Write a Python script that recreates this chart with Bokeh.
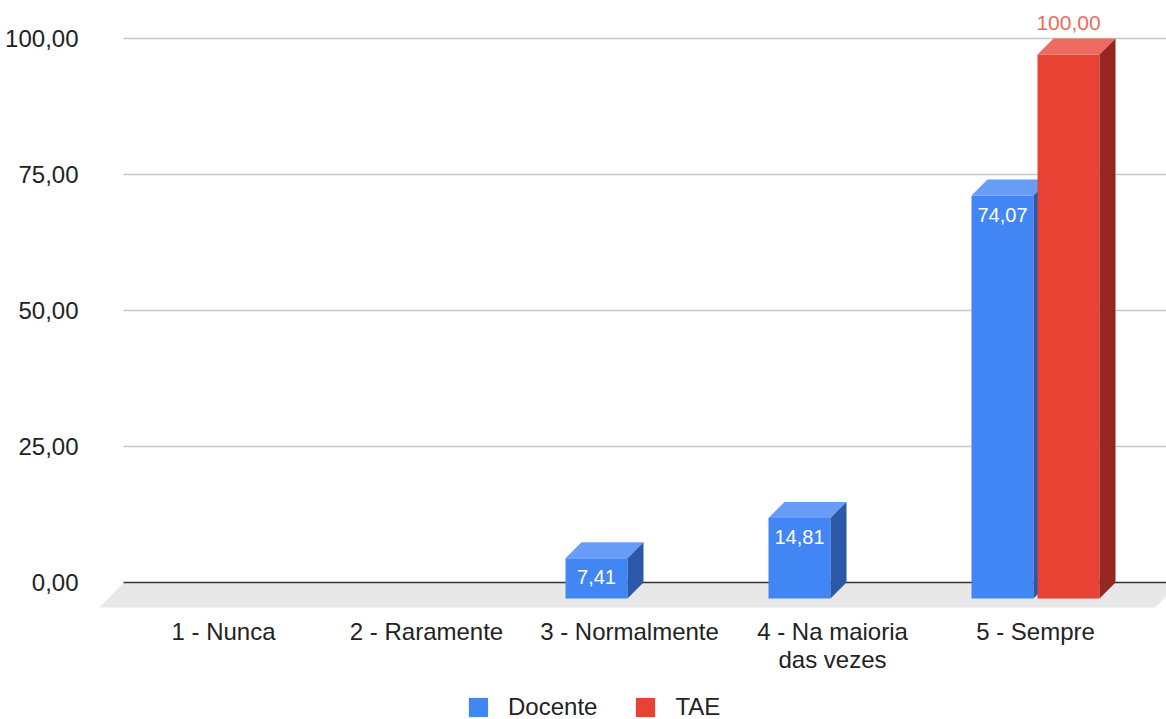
import numpy as np
from bokeh.plotting import figure
from bokeh.models import Range1d, FixedTicker, Legend, LegendItem
from bokeh.embed import file_html
from bokeh.resources import INLINE
from bokeh.core.properties import value

# ---------------- data ----------------
categories = ["1 - Nunca", "2 - Raramente", "3 - Normalmente",
              "4 - Na maioria\ndas vezes", "5 - Sempre"]
series_names = ["Docente", "TAE"]
docente = [0.0, 0.0, 7.41, 14.81, 74.07]
tae = [0.0, 0.0, 0.0, 0.0, 100.0]
y_ticks = [0, 25, 50, 75, 100]
y_tick_labels = ["0,00", "25,00", "50,00", "75,00", "100,00"]

# ---------------- layout constants ----------------
W, H = 1166, 719
FRAME_L, FRAME_R, FRAME_T, FRAME_B = 96, 1166, 0, 719
PX_CAT = 203.0      # px per category
PX_VAL = 5.44       # px per value unit
CAT0_PX = 223.0     # canvas x of category 0
ZERO_PX = 582.0     # canvas y of value 0 (back wall)

x_start = (FRAME_L - CAT0_PX) / PX_CAT
x_end = (FRAME_R - CAT0_PX) / PX_CAT
y_end = (ZERO_PX - FRAME_T) / PX_VAL
y_start = (ZERO_PX - FRAME_B) / PX_VAL

DX = 16 / PX_CAT
DY = 16 / PX_VAL
BW = 62 / PX_CAT
GAP = 2 / PX_CAT
WALL_X0 = (123 - CAT0_PX) / PX_CAT
FLOOR_DX = 24 / PX_CAT
FLOOR_DY = 25 / PX_VAL
FLOOR_X1 = (1155 - CAT0_PX) / PX_CAT
CAT_LABEL_Y = (ZERO_PX - 617) / PX_VAL

FONT = "Liberation Sans"
TXT = "#222222"

p = figure(width=W, height=H, output_backend="svg", toolbar_location=None,
           x_range=Range1d(x_start, x_end), y_range=Range1d(y_start, y_end),
           min_border_left=FRAME_L, min_border_right=W - FRAME_R,
           min_border_top=FRAME_T, min_border_bottom=H - FRAME_B,
           outline_line_color=None, background_fill_color="white",
           border_fill_color="white")
p.xgrid.visible = False
p.ygrid.visible = False
p.xaxis.visible = False

# floor
p.patch([WALL_X0, FLOOR_X1 + FLOOR_DX, FLOOR_X1, WALL_X0 - FLOOR_DX],
        [0, 0, -FLOOR_DY, -FLOOR_DY], fill_color="#e8e8e8", line_color=None)

# grid lines on back wall
grid_vals = [t for t in y_ticks if t != 0]
p.segment(x0=[WALL_X0] * len(grid_vals), x1=[x_end + 1] * len(grid_vals),
          y0=grid_vals, y1=grid_vals, line_color="#c8c8c8", line_width=1.3)
p.segment(x0=[WALL_X0], x1=[x_end + 1], y0=[0], y1=[0],
          line_color="#333333", line_width=1.6)

xs = np.arange(len(categories))


def fmt(v):
    return f"{v:.2f}".replace(".", ",")


def draw_series(vals, left_off, front, top, side):
    vals = np.asarray(vals)
    m = vals > 0
    c = xs[m].astype(float)
    v = vals[m]
    xl = c + left_off
    xr = xl + BW
    front_r = p.quad(left=xl, right=xr, bottom=-DY, top=v - DY,
                     fill_color=front, line_color=None)
    p.patches(xs=[[a, b, b + DX, a + DX] for a, b in zip(xl, xr)],
              ys=[[t - DY, t - DY, t, t] for t in v],
              fill_color=top, line_color=None)
    p.patches(xs=[[b, b + DX, b + DX, b] for b in xr],
              ys=[[-DY, 0, t, t - DY] for t in v],
              fill_color=side, line_color=None)
    return front_r, xl, xr, v


r_doc, dl, dr, dv = draw_series(docente, -GAP - BW, "#4285f4", "#679df6", "#2b58a8")
r_tae, tl, tr, tv = draw_series(tae, GAP, "#e84234", "#ec6a5f", "#962720")

# value labels
p.text(x=(dl + dr) / 2, y=dv - DY - 19 / PX_VAL, text=[fmt(v) for v in dv],
       text_color="white", text_font=value(FONT), text_font_size="20px",
       text_align="center", text_baseline="middle")
p.text(x=(tl + tr) / 2, y=tv + 16 / PX_VAL, text=[fmt(v) for v in tv],
       text_color="#ee6a5e", text_font=value(FONT), text_font_size="21px",
       text_align="center", text_baseline="middle")

# category labels (x axis)
p.text(x=xs, y=[CAT_LABEL_Y] * len(xs), text=categories,
       text_color=TXT, text_font=value(FONT), text_font_size="24px",
       text_align="center", text_baseline="top", text_line_height=1.05)

# y axis
yax = p.yaxis[0]
yax.ticker = FixedTicker(ticks=y_ticks)
yax.major_label_overrides = {t: l for t, l in zip(y_ticks, y_tick_labels)}
yax.axis_line_color = None
yax.major_tick_line_color = None
yax.minor_tick_line_color = None
yax.major_label_standoff = 12
yax.major_label_text_font = FONT
yax.major_label_text_font_size = "24px"
yax.major_label_text_color = TXT

legend = Legend(items=[LegendItem(label=series_names[0], renderers=[r_doc]),
                       LegendItem(label=series_names[1], renderers=[r_tae])],
                orientation="horizontal", location=(370, -2),
                padding=0, margin=0, spacing=36, label_standoff=18,
                glyph_width=24, glyph_height=24,
                label_text_font=FONT, label_text_font_size="24px",
                label_text_color=TXT, border_line_color=None,
                background_fill_alpha=0)
p.add_layout(legend, "center")

open("out.html", "w").write(file_html(p, INLINE))
